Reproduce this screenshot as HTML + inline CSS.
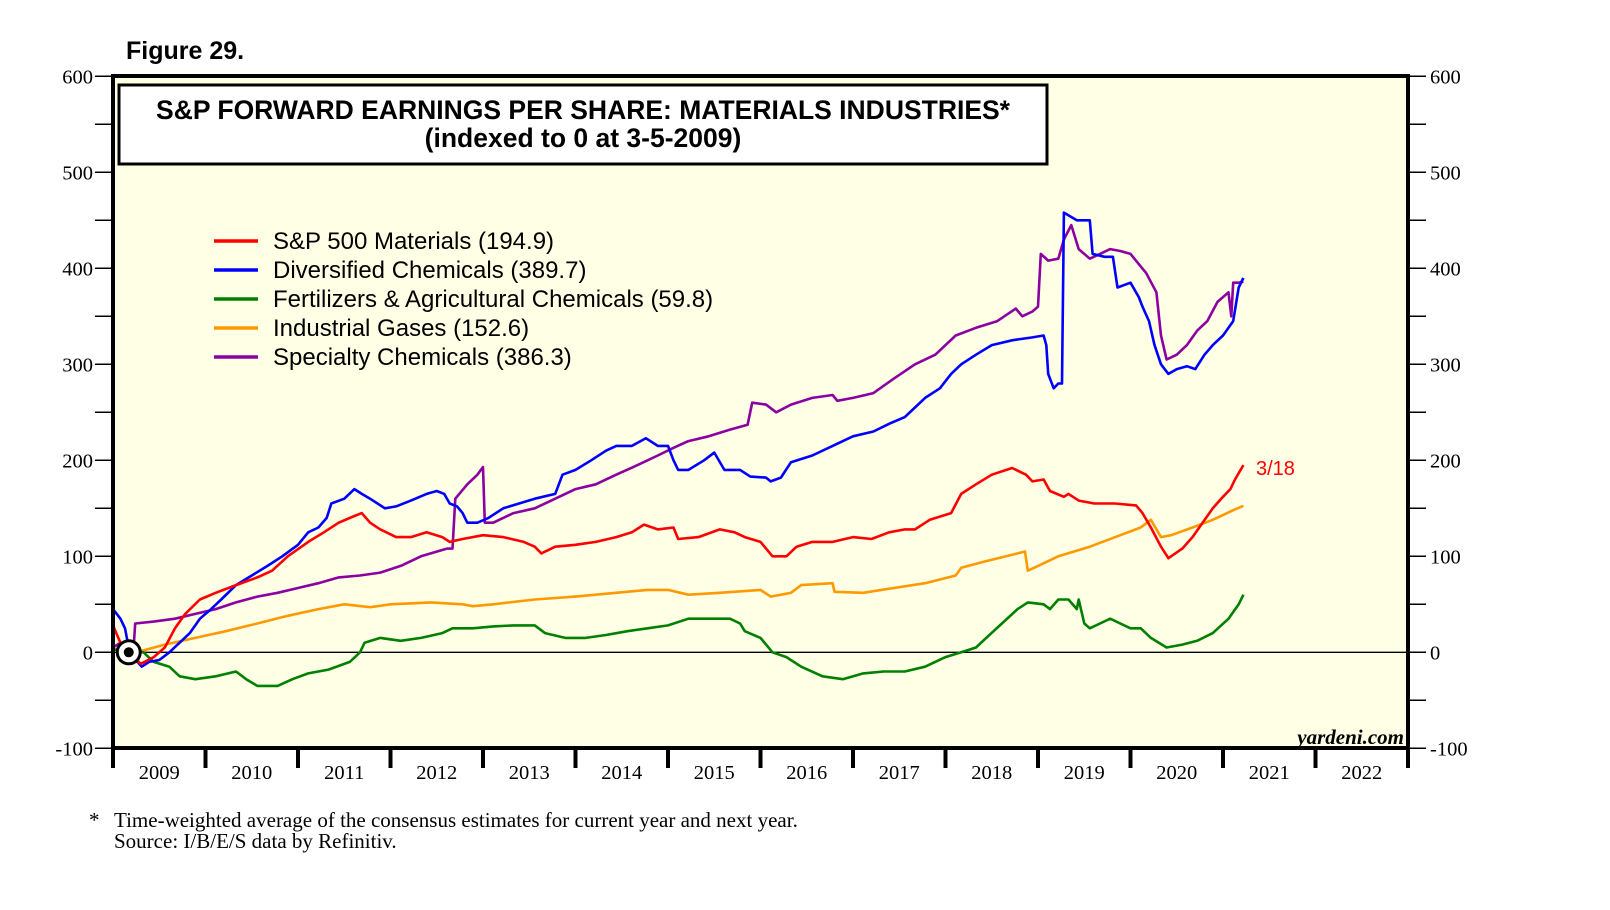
<!DOCTYPE html>
<html><head><meta charset="utf-8"><style>
body{margin:0;background:#fff;}
svg{display:block;}
text{font-family:"Liberation Sans",sans-serif;}
.serif{font-family:"Liberation Serif",serif;}
</style></head><body>
<svg id="chart" width="1610" height="910" viewBox="0 0 1610 910">
<text x="126" y="59" font-size="25" font-weight="bold">Figure 29.</text>
<rect x="113" y="76" width="1295" height="672" fill="#ffffe6"/>
<g id="grid"></g>
<g id="series"></g>
<rect x="113" y="76" width="1295" height="672" fill="none" stroke="#000" stroke-width="4"/>
<rect x="119" y="85" width="928" height="79" fill="#fff" stroke="#000" stroke-width="3"/>
<text x="583" y="119" font-size="26.5" font-weight="bold" text-anchor="middle">S&amp;P FORWARD EARNINGS PER SHARE: MATERIALS INDUSTRIES*</text>
<text x="583" y="147" font-size="26.5" font-weight="bold" text-anchor="middle">(indexed to 0 at 3-5-2009)</text>
<g id="legend"></g>
<text x="1256" y="475" font-size="20" fill="#ff0000">3/18</text>
<text class="serif" x="1404" y="744" font-size="21" font-weight="bold" font-style="italic" text-anchor="end">yardeni.com</text>
<text class="serif" x="89" y="827" font-size="21">*</text>
<text class="serif" x="114" y="827" font-size="21">Time-weighted average of the consensus estimates for current year and next year.</text>
<text class="serif" x="114" y="848" font-size="21">Source: I/B/E/S data by Refinitiv.</text>
</svg>
<script>
const yTicks=[-100,0,100,200,300,400,500,600];
const yearLabels=["2009","2010","2011","2012","2013","2014","2015","2016","2017","2018","2019","2020","2021","2022"];
const seriesNames=["S&P 500 Materials (194.9)","Diversified Chemicals (389.7)","Fertilizers & Agricultural Chemicals (59.8)","Industrial Gases (152.6)","Specialty Chemicals (386.3)"];
const seriesColors=["#ff0000","#0000ff","#008000","#ff9900","#8b00a0"];
// times: years since start of 2009
const redT=[0,.08,.17,.30,.44,.56,.67,.78,.94,1.11,1.33,1.56,1.72,1.89,2.11,2.28,2.44,2.61,2.69,2.78,2.89,3.06,3.22,3.39,3.56,3.64,3.78,4.0,4.22,4.44,4.56,4.63,4.78,5.0,5.22,5.44,5.61,5.74,5.89,6.06,6.11,6.33,6.56,6.72,6.83,7.0,7.13,7.28,7.39,7.56,7.78,8.0,8.2,8.39,8.56,8.67,8.83,9.06,9.17,9.33,9.5,9.72,9.87,9.94,10.06,10.13,10.28,10.33,10.44,10.61,10.83,11.06,11.13,11.22,11.33,11.41,11.56,11.67,11.78,11.89,12.0,12.08,12.13,12.22];
const redV=[28,10,0,-12,-5,5,25,40,55,62,70,78,85,100,115,125,135,142,145,135,128,120,120,125,120,115,118,122,120,115,110,103,110,112,115,120,125,133,128,130,118,120,128,125,120,115,100,100,110,115,115,120,118,125,128,128,138,145,165,175,185,192,185,178,180,168,162,165,158,155,155,153,145,130,110,98,108,120,135,150,162,170,180,195];
const blueT=[0,.08,.13,.17,.22,.31,.39,.5,.61,.72,.83,.94,1.06,1.17,1.33,1.5,1.67,1.83,2.0,2.11,2.22,2.31,2.36,2.5,2.61,2.69,2.78,2.94,3.06,3.22,3.39,3.5,3.58,3.64,3.72,3.78,3.83,3.94,4.06,4.22,4.39,4.56,4.78,4.86,5.0,5.17,5.33,5.44,5.61,5.76,5.89,6.0,6.06,6.11,6.22,6.39,6.5,6.61,6.78,6.89,7.06,7.11,7.22,7.33,7.56,7.78,8.0,8.22,8.39,8.56,8.67,8.78,8.94,9.06,9.17,9.33,9.5,9.72,9.94,10.06,10.09,10.11,10.17,10.22,10.26,10.28,10.42,10.56,10.59,10.72,10.81,10.86,11.0,11.09,11.13,11.2,11.26,11.33,11.41,11.5,11.61,11.7,11.8,11.89,12.0,12.11,12.17,12.22];
const blueV=[45,35,25,5,-5,-15,-10,-8,0,10,20,35,45,55,70,80,90,100,112,125,130,140,155,160,170,165,160,150,152,158,165,168,165,155,152,145,135,135,140,150,155,160,165,185,190,200,210,215,215,223,215,215,200,190,190,200,208,190,190,183,182,178,182,198,205,215,225,230,238,245,255,265,275,290,300,310,320,325,328,330,320,290,275,280,280,458,450,450,415,412,412,380,385,370,360,345,320,300,290,295,298,295,310,320,330,345,380,390];
const greenT=[0,.17,.33,.44,.61,.72,.89,1.11,1.33,1.44,1.56,1.78,1.94,2.11,2.33,2.56,2.67,2.72,2.89,3.11,3.33,3.56,3.67,3.89,4.11,4.33,4.56,4.67,4.89,5.11,5.33,5.56,5.78,6.0,6.22,6.44,6.67,6.78,6.83,7.0,7.13,7.28,7.44,7.67,7.89,8.11,8.33,8.56,8.78,9.0,9.17,9.33,9.44,9.61,9.78,9.89,10.06,10.13,10.22,10.33,10.42,10.44,10.5,10.56,10.67,10.78,10.89,11.0,11.11,11.22,11.39,11.56,11.72,11.89,12.06,12.17,12.22];
const greenV=[3,2,0,-10,-15,-25,-28,-25,-20,-28,-35,-35,-28,-22,-18,-10,0,10,15,12,15,20,25,25,27,28,28,20,15,15,18,22,25,28,35,35,35,30,22,15,0,-5,-15,-25,-28,-22,-20,-20,-15,-5,0,5,15,30,45,52,50,45,55,55,45,55,30,25,30,35,30,25,25,15,5,8,12,20,35,50,60];
const orangeT=[0,.17,.33,.56,.89,1.22,1.56,1.89,2.22,2.5,2.78,3.0,3.44,3.78,3.89,4.11,4.56,5.0,5.44,5.78,6.0,6.22,6.56,7.0,7.11,7.33,7.44,7.78,7.8,8.11,8.44,8.78,9.11,9.17,9.44,9.78,9.86,9.89,10.0,10.22,10.56,10.89,11.11,11.22,11.33,11.44,11.67,11.89,12.11,12.22];
const orangeV=[2,0,2,8,15,22,30,38,45,50,47,50,52,50,48,50,55,58,62,65,65,60,62,65,58,62,70,72,63,62,67,72,80,88,95,103,105,85,90,100,110,122,130,138,120,122,130,138,148,152.6];
const purpleT=[0,.08,.17,.22,.24,.44,.67,.89,1.11,1.33,1.56,1.78,2.0,2.22,2.44,2.67,2.89,3.11,3.33,3.61,3.67,3.7,3.83,3.94,4.0,4.02,4.11,4.33,4.56,4.78,5.0,5.22,5.44,5.67,5.89,6.06,6.22,6.44,6.67,6.86,6.91,7.06,7.17,7.33,7.56,7.78,7.83,8.0,8.22,8.44,8.67,8.89,9.11,9.33,9.56,9.76,9.83,9.94,10.0,10.03,10.11,10.22,10.28,10.36,10.44,10.56,10.67,10.78,10.89,11.0,11.17,11.28,11.33,11.39,11.5,11.61,11.72,11.83,11.94,12.06,12.09,12.11,12.17,12.22];
const purpleV=[5,10,5,0,30,32,35,40,45,52,58,62,67,72,78,80,83,90,100,108,108,160,175,185,193,135,135,145,150,160,170,175,185,195,205,213,220,225,232,237,260,258,250,258,265,268,262,265,270,285,300,310,330,338,345,358,350,355,360,415,408,410,430,445,420,410,415,420,418,415,395,375,330,305,310,320,335,345,365,375,350,385,385,386];

const X0=113,X1=1408,Y0=652.3,PX=0.96;
const yearW=(X1-X0)/yearLabels.length;
function xs(t){return X0+t*yearW;}
function ys(v){return Y0-v*PX;}
const NS="http://www.w3.org/2000/svg";
const svg=document.getElementById('chart');
const grid=document.getElementById('grid');
function mk(tag,attrs,parent){const e=document.createElementNS(NS,tag);for(const k in attrs)e.setAttribute(k,attrs[k]);parent.appendChild(e);return e;}
for(let v=-100;v<=600;v+=50){
  const y=ys(v);
  const a=mk('line',{x1:X0-18,x2:X0,y1:y,y2:y,stroke:'#000','stroke-width':1.5},svg);
  
  
  const b=mk('line',{x1:X1,x2:X1+18,y1:y,y2:y,stroke:'#000','stroke-width':1.5},svg);
  
  
}
yTicks.forEach(v=>{
  const y=ys(v)+7;
  const l=mk('text',{x:X0-20,y:y,'font-size':20.5,'text-anchor':'end',class:'serif'},svg);
  l.textContent=v;
  
  
  const r=mk('text',{x:X1+22,y:y,'font-size':20.5,class:'serif'},svg);
  r.textContent=v;
  
  
});
const zl=mk('line',{x1:X0,x2:X1,y1:ys(0),y2:ys(0),stroke:'#000','stroke-width':1.3},grid);


yearLabels.forEach((lab,i)=>{
  const t=mk('line',{x1:xs(i),x2:xs(i),y1:748,y2:768,stroke:'#000','stroke-width':4},svg);
  
  
  const tx=mk('text',{x:xs(i+0.5),y:779,'font-size':20.5,'text-anchor':'middle',class:'serif'},svg);
  tx.textContent=lab;
  
  
});
const lt=mk('line',{x1:X1,x2:X1,y1:748,y2:768,stroke:'#000','stroke-width':4},svg);


const ser=document.getElementById('series');
const data=[[orangeT,orangeV],[greenT,greenV],[purpleT,purpleV],[blueT,blueV],[redT,redV]];
const idx=[3,2,4,1,0];
const sn=['industrial-gases-line','fertilizers-line','specialty-chemicals-line','diversified-chemicals-line','sp500-materials-line'];
data.forEach((d,k)=>{
  const pts=d[0].map((t,i)=>xs(t).toFixed(1)+','+ys(d[1][i]).toFixed(1)).join(' ');
  const p=mk('polyline',{points:pts,fill:'none',stroke:seriesColors[idx[k]],'stroke-width':2.6,'stroke-linejoin':'round'},ser);
  
  
});
const c=mk('circle',{cx:xs(0.17),cy:ys(0),r:11.5,fill:'#fff',stroke:'#000','stroke-width':3},ser);


const cd=mk('circle',{cx:xs(0.17),cy:ys(0),r:5,fill:'#000'},ser);


const leg=document.getElementById('legend');
seriesNames.forEach((n,i)=>{
  const y=241+i*29;
  const l=mk('line',{x1:214,x2:258,y1:y,y2:y,stroke:seriesColors[i],'stroke-width':3.5},leg);
  
  
  const t=mk('text',{x:273,y:y+8,'font-size':24},leg);
  t.textContent=n;
  
  
});
</script>
</body></html>
